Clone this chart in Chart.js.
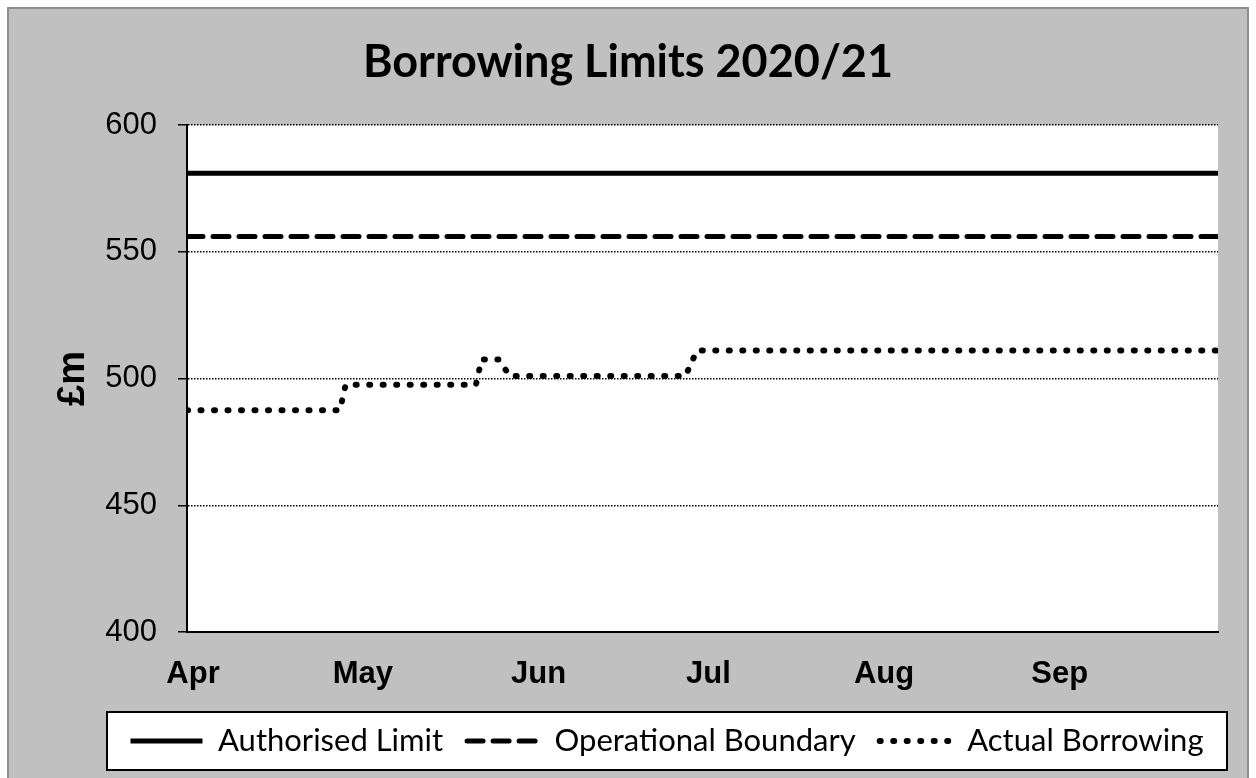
<!DOCTYPE html>
<html lang="en">
<head>
    <meta charset="UTF-8">
    <title>Borrowing Limits 2020/21</title>
    <script src="https://cdn.jsdelivr.net/npm/chart.js"></script>
    <style>
        html, body {
            margin: 0;
            padding: 0;
            background: #fff;
        }
        .frame {
            position: absolute;
            left: 7px;
            top: 7px;
            width: 1238px;
            height: 790px;
            background: #c0c0c0;
            border: 2px solid #8e8e8e;
        }
        .chart-box {
            position: absolute;
            left: 0;
            top: 0;
            width: 1256px;
            height: 778px;
        }
    </style>
</head>
<body>
    <div class="frame"></div>
    <div class="chart-box"><canvas id="chart"></canvas></div>

    <script>
        // x values are days counted from 1 April 2020
        const monthNames = ['Apr', 'May', 'Jun', 'Jul', 'Aug', 'Sep'];
        const monthStartDays = [0, 30, 61, 91, 122, 153];
        const lastDay = 182;

        const limitDays = [0, 182];
        const authorisedLimit = [581, 581];
        const operationalBoundary = [556, 556];

        const actualDays = [0, 27, 28, 51, 52, 55, 57, 88, 90, 182];
        const actualBorrowing = [487.5, 487.5, 497.5, 497.5, 507.5, 507.5, 501, 501, 511, 511];

        const yTicks = [400, 450, 500, 550, 600];

        // legend frame (drawn behind the Chart.js legend)
        const legendFrame = { left: 107, top: 712, right: 1227, bottom: 770 };

        const toPoints = (xs, ys) => xs.map((x, i) => ({ x: x, y: ys[i] }));

        const decor = {
            id: 'decor',
            afterLayout(chart) {
                // centre the legend row inside the frame, leave room so it never wraps
                const lg = chart.legend;
                const pad = lg.options.labels.padding;
                const size = lg.options.labels.font.size;
                const mid = (legendFrame.left + legendFrame.right) / 2;
                lg.left = mid - 620;
                lg.right = mid + 620;
                lg.width = 1240;
                lg.top = (legendFrame.top + legendFrame.bottom) / 2 - pad - size / 2;
                lg.bottom = lg.top + lg.height;
            },
            beforeDraw(chart) {
                const { ctx, chartArea: a } = chart;
                ctx.save();
                ctx.fillStyle = '#fff';
                ctx.fillRect(a.left, a.top, a.right - a.left, a.bottom - a.top);
                ctx.fillRect(legendFrame.left, legendFrame.top,
                    legendFrame.right - legendFrame.left, legendFrame.bottom - legendFrame.top);
                ctx.strokeStyle = '#000';
                ctx.lineWidth = 2;
                ctx.strokeRect(legendFrame.left, legendFrame.top,
                    legendFrame.right - legendFrame.left, legendFrame.bottom - legendFrame.top);
                ctx.restore();
            }
        };

        // legend samples should use the line dash of each dataset
        function legendLabels(chart) {
            const items = Chart.defaults.plugins.legend.labels.generateLabels(chart);
            return items.map((item, i) => {
                const ds = chart.data.datasets[i];
                item.lineDash = ds.borderDash || [];
                item.lineCap = ds.borderCapStyle;
                item.lineWidth = ds.borderWidth;
                item.strokeStyle = ds.borderColor;
                item.fillStyle = ds.borderColor;
                return item;
            });
        }

        new Chart(document.getElementById('chart'), {
            type: 'line',
            data: {
                datasets: [{
                    label: 'Authorised Limit',
                    data: toPoints(limitDays, authorisedLimit),
                    borderColor: '#000',
                    backgroundColor: '#000',
                    borderWidth: 5,
                    borderCapStyle: 'butt'
                }, {
                    label: 'Operational Boundary',
                    data: toPoints(limitDays, operationalBoundary),
                    borderColor: '#000',
                    backgroundColor: '#000',
                    borderWidth: 5,
                    borderDash: [16, 10],
                    borderCapStyle: 'round'
                }, {
                    label: 'Actual Borrowing',
                    data: toPoints(actualDays, actualBorrowing),
                    borderColor: '#000',
                    backgroundColor: '#000',
                    borderWidth: 6,
                    borderDash: [1, 12.5],
                    borderCapStyle: 'round'
                }]
            },
            options: {
                responsive: true,
                maintainAspectRatio: false,
                animation: false,
                devicePixelRatio: 1,
                elements: {
                    point: { radius: 0, hoverRadius: 0 },
                    line: { tension: 0 }
                },
                layout: {
                    padding: { left: 38, right: 38, top: 0, bottom: 21 }
                },
                plugins: {
                    title: {
                        display: true,
                        text: 'Borrowing Limits 2020/21',
                        color: '#000',
                        font: { family: 'Lato', size: 45, weight: 'bold' },
                        padding: { top: 35, bottom: 36 }
                    },
                    legend: {
                        display: true,
                        position: 'bottom',
                        labels: {
                            color: '#000',
                            font: { family: 'Lato', size: 31 },
                            usePointStyle: true,
                            pointStyle: 'line',
                            pointStyleWidth: 72,
                            padding: 24,
                            generateLabels: legendLabels
                        }
                    },
                    tooltip: { enabled: false }
                },
                scales: {
                    x: {
                        type: 'linear',
                        min: 0,
                        max: lastDay,
                        afterBuildTicks: (scale) => {
                            scale.ticks = monthStartDays.map(v => ({ value: v }));
                        },
                        afterFit: (scale) => { scale.height = 60; },
                        grid: { display: false, drawTicks: false },
                        border: { display: true, color: '#000', width: 2 },
                        ticks: {
                            autoSkip: false,
                            maxRotation: 0,
                            padding: 24,
                            labelOffset: 6,
                            color: '#000',
                            font: { family: 'Liberation Sans', size: 31, weight: 'bold' },
                            callback: (value) => monthNames[monthStartDays.indexOf(value)]
                        }
                    },
                    y: {
                        min: yTicks[0],
                        max: yTicks[yTicks.length - 1],
                        afterFit: (scale) => { scale.width = 149; },
                        grid: {
                            color: '#000',
                            lineWidth: 1.5,
                            tickLength: 9,
                            tickWidth: 1.5,
                            tickColor: '#000',
                            tickBorderDash: []
                        },
                        border: { display: true, color: '#000', width: 2, dash: [1.5, 1.5] },
                        ticks: {
                            stepSize: 50,
                            padding: 21,
                            color: '#000',
                            font: { family: 'Liberation Sans', size: 31 }
                        },
                        title: {
                            display: true,
                            text: '£m',
                            color: '#000',
                            font: { family: 'Liberation Sans', size: 38, weight: 'bold' },
                            padding: { top: 13, bottom: 0 }
                        }
                    }
                }
            },
            plugins: [decor]
        });
    </script>
</body>
</html>
